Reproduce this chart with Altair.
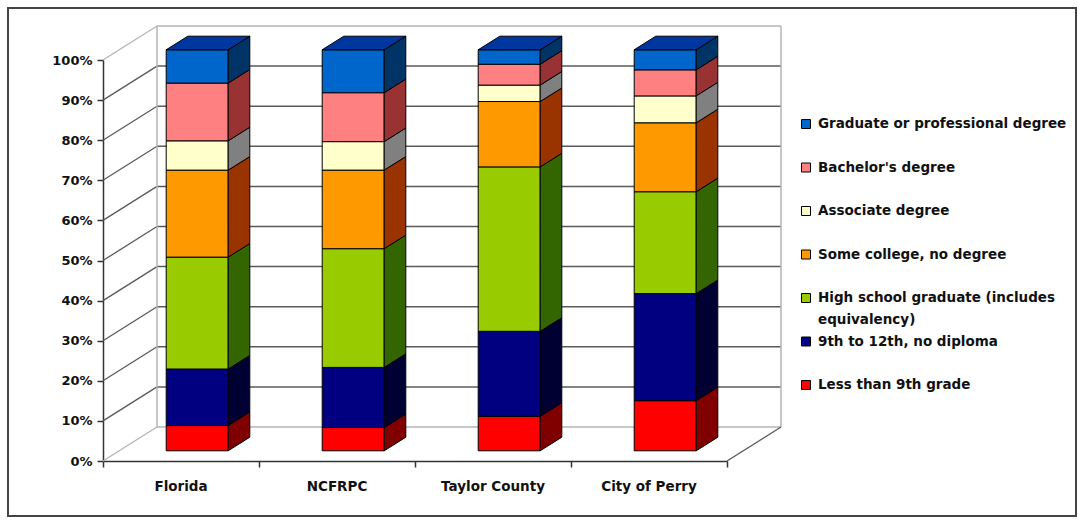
import textwrap

import altair as alt
import pandas as pd

# ---------------------------------------------------------------- data
categories = ["Florida", "NCFRPC", "Taylor County", "City of Perry"]

# attainment levels, bottom of the stack first
levels = [
    "Less than 9th grade",
    "9th to 12th, no diploma",
    "High school graduate (includes equivalency)",
    "Some college, no degree",
    "Associate degree",
    "Bachelor's degree",
    "Graduate or professional degree",
]

# percent of population 25+ in each level (same order as `levels`)
florida = [6.3, 14.1, 27.9, 21.7, 7.3, 14.4, 8.3]
ncfrpc = [5.8, 15.0, 29.6, 19.6, 7.1, 12.2, 10.7]
taylor = [8.6, 21.2, 41.0, 16.3, 4.1, 5.2, 3.6]
perry = [12.5, 26.7, 25.4, 17.2, 6.7, 6.5, 5.0]
shares = [florida, ncfrpc, taylor, perry]

tick_values = list(range(0, 101, 10))

# ---------------------------------------------------------------- styling
front_colors = ["#FF0000", "#000080", "#99CC00", "#FF9900", "#FFFFCC", "#FF8080", "#0066CC"]
side_colors = ["#800000", "#000033", "#336600", "#993300", "#808080", "#993333", "#003366"]
top_color = "#0036A0"

FONT = "DejaVu Sans"
PLOT_W, PLOT_H = 624, 401          # front plane of the 3-D box
PAD_L, PAD_T = 103, 60
PX_X = PLOT_W / 4.0                # pixels per category unit
PX_Y = PLOT_H / 100.0              # pixels per percent

def ux(px):
    return px / PX_X

def uy(px):
    return px / PX_Y

# depth vector of the box (front plane -> back wall), in pixels
DEPTH_PX = (54.0, -34.0)
BAR_FRONT, BAR_BACK = 0.30, 0.70   # bars sit in the middle of the depth
BAR_HALF_W = ux(31)

wall_dx, wall_dy = ux(DEPTH_PX[0]), uy(-DEPTH_PX[1])
fx, fy = wall_dx * BAR_FRONT, wall_dy * BAR_FRONT
dx, dy = wall_dx * (BAR_BACK - BAR_FRONT), wall_dy * (BAR_BACK - BAR_FRONT)

# ---------------------------------------------------------------- faces of the 3-D bars
front_rows, side_rows, top_rows = [], [], []
for i, (cat, vals) in enumerate(zip(categories, shares)):
    xl = i + 0.5 - BAR_HALF_W + fx
    xr = i + 0.5 + BAR_HALF_W + fx
    cum = 0.0
    for j, (lev, v) in enumerate(zip(levels, vals)):
        lo, hi = cum, cum + v
        cum = hi
        front_rows.append(dict(category=cat, level=lev, share=v,
                               x=xl, x2=xr, y=lo + fy, y2=hi + fy,
                               fill=front_colors[j]))
        face = f"{cat}|{lev}"
        side_rows.append(dict(face=face, x=xr, y=lo + fy, y2=hi + fy, fill=side_colors[j]))
        side_rows.append(dict(face=face, x=xr + dx, y=lo + fy + dy, y2=hi + fy + dy,
                              fill=side_colors[j]))
    top = cum + fy
    for px_, y_, y2_ in [(xl, top, top), (xl + dx, top, top + dy),
                         (xr, top, top + dy), (xr + dx, top + dy, top + dy)]:
        top_rows.append(dict(face=cat, x=px_, y=y_, y2=y2_, fill=top_color))

front_df = pd.DataFrame(front_rows)
side_df = pd.DataFrame(side_rows)
top_df = pd.DataFrame(top_rows)

# ---------------------------------------------------------------- walls and gridlines
LIGHT, DARK = "#B4B4B4", "#5A5A5A"
wall_rows = []
for v in tick_values:
    col = LIGHT if v in (0, 100) else DARK
    # horizontal line on the back wall
    wall_rows.append(dict(x=wall_dx, x2=4 + wall_dx, y=v + wall_dy, y2=v + wall_dy, color=col, w=1.5))
    # diagonal on the side wall, from the axis tick back to the wall
    wall_rows.append(dict(x=0, x2=wall_dx, y=v, y2=v + wall_dy, color=col, w=1.3))
# vertical edges of the back wall
for xv in (wall_dx, 4 + wall_dx):
    wall_rows.append(dict(x=xv, x2=xv, y=wall_dy, y2=100 + wall_dy, color=LIGHT, w=1.5))
# right edge of the floor
wall_rows.append(dict(x=4, x2=4 + wall_dx, y=0, y2=wall_dy, color=DARK, w=1.3))
wall_df = pd.DataFrame(wall_rows)

# ---------------------------------------------------------------- legend rows
LEG_TOP, LEG_STEP, LEG_LINE = 124.0, 43.5, 22.0
legend_sq, legend_txt = [], []
for k, j in enumerate(reversed(range(len(levels)))):
    cy = LEG_TOP + LEG_STEP * k
    legend_sq.append(dict(ly=(PAD_T + PLOT_H - cy) / PX_Y, fill=front_colors[j]))
    for n, line in enumerate(textwrap.wrap(levels[j], 31)):
        legend_txt.append(dict(ly=(PAD_T + PLOT_H - cy - LEG_LINE * n) / PX_Y, line=line))
legend_sq_df = pd.DataFrame(legend_sq)
legend_txt_df = pd.DataFrame(legend_txt)

cat_df = pd.DataFrame(dict(category=categories, xc=[i + 0.5 for i in range(len(categories))]))

# ---------------------------------------------------------------- scales / axes
xs = alt.Scale(domain=[0, 4], nice=False, zero=False)
ys = alt.Scale(domain=[0, 100], nice=False, zero=False)
xax = alt.Axis(values=[0, 1, 2, 3, 4], labels=False, title=None, grid=False,
               domainColor="#333", domainWidth=1.5, tickColor="#333", tickWidth=1.5, tickSize=6)
yax = alt.Axis(values=tick_values, labelExpr="datum.value + '%'", title=None, grid=False,
               domainColor="#333", domainWidth=1.5, tickColor="#333", tickWidth=1.5, tickSize=6,
               labelFont=FONT, labelFontWeight="bold", labelFontSize=13, labelColor="#111",
               labelPadding=5)

def X(field):
    return alt.X(field, type="quantitative", scale=xs, axis=xax)

def Y(field):
    return alt.Y(field, type="quantitative", scale=ys, axis=yax)

walls = alt.Chart(wall_df).mark_rule().encode(
    x=X("x"), x2="x2", y=Y("y"), y2="y2",
    stroke=alt.Stroke("color:N", scale=None),
    strokeWidth=alt.StrokeWidth("w:Q", scale=None),
)

fronts = alt.Chart(front_df).mark_rect(stroke="black", strokeWidth=1).encode(
    x=X("x"), x2="x2", y=Y("y"), y2="y2",
    fill=alt.Fill("fill:N", scale=None),
    tooltip=["category", "level", "share"],
)

sides = alt.Chart(side_df).mark_area(stroke="black", strokeWidth=1, opacity=1).encode(
    x=X("x"), y=Y("y"), y2="y2",
    fill=alt.Fill("fill:N", scale=None),
    detail="face:N",
)

tops = alt.Chart(top_df).mark_area(stroke="black", strokeWidth=1, opacity=1).encode(
    x=X("x"), y=Y("y"), y2="y2",
    fill=alt.Fill("fill:N", scale=None),
    detail="face:N",
)

cat_labels = alt.Chart(cat_df).mark_text(
    font=FONT, fontWeight="bold", fontSize=13.5, color="#111", align="center", baseline="middle"
).encode(x=X("xc"), y=alt.value(427), text="category:N")

legend_squares = alt.Chart(legend_sq_df).mark_square(
    size=81, stroke="black", strokeWidth=1, opacity=1, filled=True
).encode(x=alt.value(703), y=Y("ly"), fill=alt.Fill("fill:N", scale=None))

legend_text = alt.Chart(legend_txt_df).mark_text(
    font=FONT, fontWeight="bold", fontSize=13.5, color="#111", align="left", baseline="middle"
).encode(x=alt.value(715), y=Y("ly"), text="line:N")

frame = alt.Chart(cat_df.head(1)).mark_rect(fill=None, stroke="#444", strokeWidth=2).encode(
    x=alt.value(-95), x2=alt.value(973), y=alt.value(-52), y2=alt.value(456)
)

chart = (
    alt.layer(walls, fronts, sides, tops, cat_labels, legend_squares, legend_text, frame)
    .properties(
        width=PLOT_W,
        height=PLOT_H,
        autosize=alt.AutoSizeParams(type="none"),
        padding={"left": PAD_L, "top": PAD_T, "right": 1078 - PAD_L - PLOT_W,
                 "bottom": 522 - PAD_T - PLOT_H},
        background="white",
    )
    .configure_view(stroke=None)
)

chart.save("out.html", embed_options={"renderer": "svg", "actions": False})
